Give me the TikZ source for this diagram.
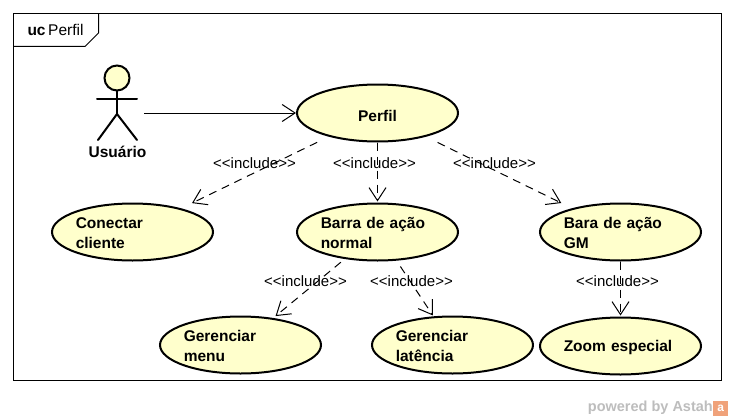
\documentclass[tikz,border=0pt]{standalone}
\usepackage{xcolor}
\usepackage{fontspec}
\setmainfont{Liberation Sans}
\usetikzlibrary{arrows.meta,positioning,shapes.geometric}
\definecolor{ucfill}{HTML}{FFFFCC}
\definecolor{stamp}{HTML}{BDBDBD}
\definecolor{stamporange}{HTML}{F0A27A}
\newcommand{\inctext}{<{}<include>{}>}
\begin{document}
\begin{tikzpicture}[
  x=1pt,y=-1pt,
  usecase/.style={ellipse,draw=black,fill=ucfill,line width=2pt,minimum width=161pt,minimum height=57pt,inner sep=0pt,text width=113.5pt,align=left,font=\fontsize{15.5}{20}\selectfont\bfseries,execute at end node={\endgraf\vspace{-2pt}}},
  oneline/.style={execute at end node={\endgraf\vspace{-5pt}}},
  includearrow/.style={-{Straight Barb[length=13pt,width=17pt]},line width=1pt,dash pattern=on 8pt off 6pt},
  includelabel/.style={font=\fontsize{15}{18}\selectfont,inner sep=0pt},
  stick/.style={line width=2pt,line cap=round}
]
\useasboundingbox (0,0) rectangle (733,420);
\fill[white] (0,0) rectangle (733,420);
% frame
\draw[line width=1pt] (13.5,13.5) rectangle (721.5,380.5);
\draw[line width=1pt] (98.5,13.5) -- (98.5,33) -- (85,46.5) -- (13.5,46.5);
\node[inner sep=0pt,font=\fontsize{15.5}{18}\selectfont] (frametitle) at (55.5,29.5) {\textbf{uc}\,Perfil};
% actor
\draw[stick,fill=ucfill] (117,78) circle (12.5);
\draw[stick] (97,99) -- (137,99);
\draw[stick] (117,90.5) -- (117,114);
\draw[stick] (98,140) -- (117,114) -- (137,140);
\node[inner sep=0pt,font=\fontsize{15.5}{18}\selectfont\bfseries] (usuario) at (117.5,151.5) {Usuário};
\coordinate (hand) at (144,113);
% use cases
\node[usecase,oneline,align=center] (perfil) at (377.5,113) {\raisebox{-2.5pt}[\height][\depth]{Perfil}};
\node[usecase] (conectar) at (132.5,232) {Conectar\\cliente};
\node[usecase] (barra) at (377.5,232) {Barra de ação\\normal};
\node[usecase] (baragm) at (620.5,232) {Bara de ação\\GM};
\node[usecase] (menu) at (240.5,345) {Gerenciar\\menu};
\node[usecase] (latencia) at (452.5,345) {Gerenciar\\latência};
\node[usecase,oneline] (zoom) at (620.5,346) {Zoom especial};
% connectors
\draw[-{Straight Barb[length=13pt,width=17pt]},line width=1pt] (hand) -- (perfil);
\draw[includearrow,shorten <=13pt,shorten >=12pt] (perfil) -- (conectar);
\draw[includearrow,shorten >=1pt] (perfil) -- (barra);
\draw[includearrow,shorten <=13pt,shorten >=12pt] (perfil) -- (baragm);
\draw[includearrow,shorten <=5pt,shorten >=3pt] (barra) -- (menu);
\draw[includearrow,shorten <=7pt,shorten >=1pt] (barra) -- (latencia);
\draw[includearrow,shorten >=1pt] (baragm) -- (zoom);
% labels
\node[includelabel] (inc1) at (254.5,163) {\inctext};
\node[includelabel] (inc2) at (374.5,163) {\inctext};
\node[includelabel] (inc3) at (494.5,163) {\inctext};
\node[includelabel] (inc4) at (305.5,281) {\inctext};
\node[includelabel] (inc5) at (411.5,281) {\inctext};
\node[includelabel] (inc6) at (617.5,281) {\inctext};
% stamp
\node[inner sep=0pt,anchor=east,text=stamp,font=\fontsize{14.5}{18}\selectfont\bfseries] (powered) at (713,408) {powered by Astah};
\node[fill=stamporange,text=white,inner sep=0pt,minimum size=15pt,font=\fontsize{12}{12}\selectfont\bfseries,right=0pt of powered] (astahlogo) {a};
\end{tikzpicture}
\end{document}
